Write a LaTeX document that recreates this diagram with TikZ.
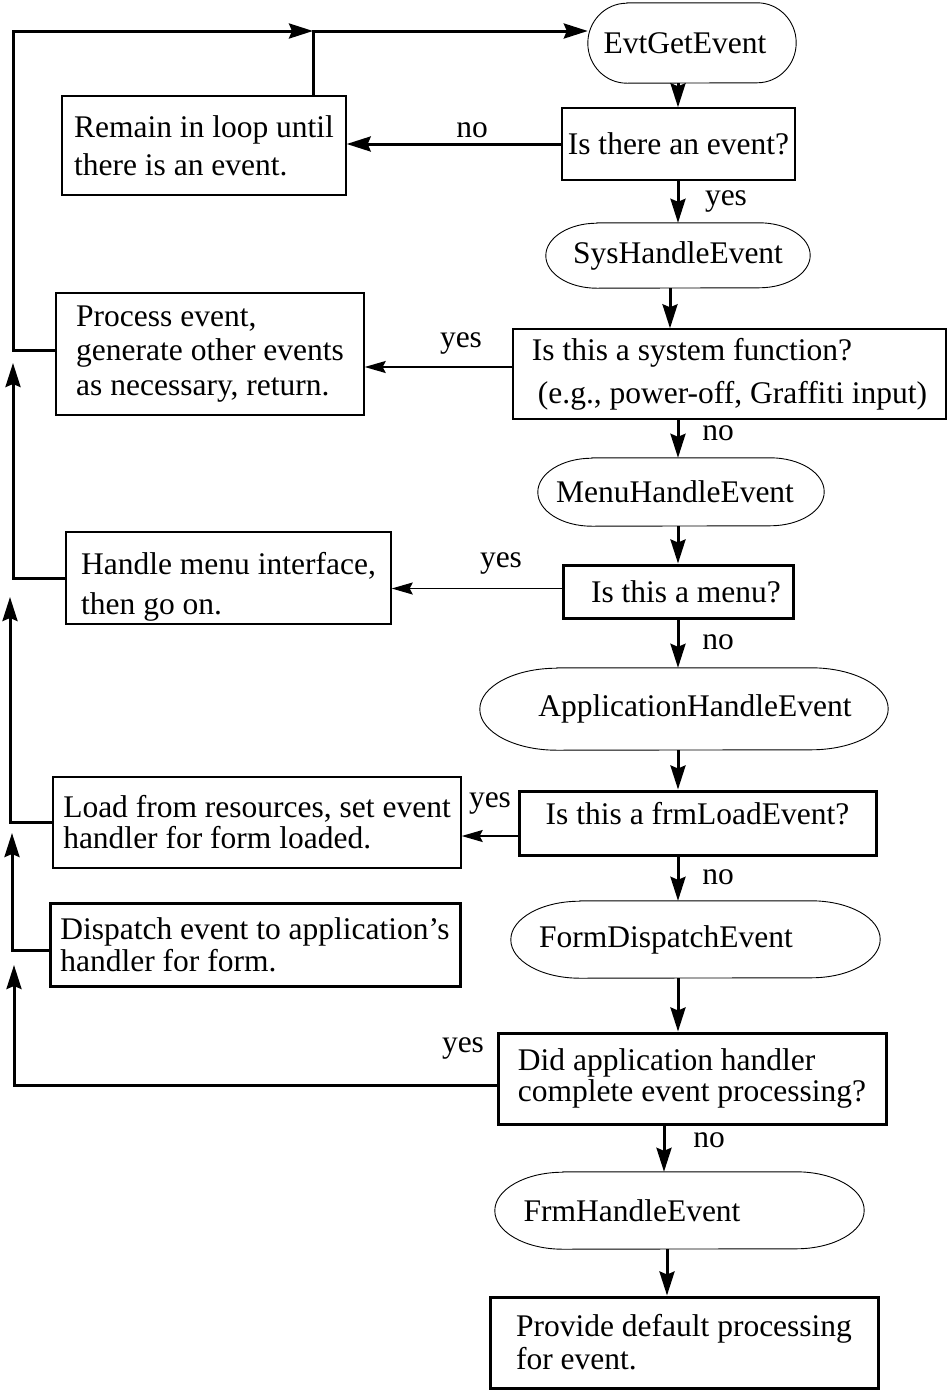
\documentclass[tikz,border=0pt]{standalone}
\usepackage{fontspec}
\setmainfont{Liberation Serif}
\usetikzlibrary{arrows.meta}

\newcommand\capsule[3]{%
  \draw[line width=0.9pt] ([xshift=#2]#1.north west) -- ([xshift=-#2]#1.north east)
    arc[start angle=90,end angle=-90,x radius=#2,y radius=#3]
    -- ([xshift=#2]#1.south west)
    arc[start angle=270,end angle=90,x radius=#2,y radius=#3] -- cycle;}

\begin{document}
\begin{tikzpicture}[x=1pt,y=-1pt]
\tikzset{every node/.style={font=\fontsize{31.5}{33}\selectfont,inner sep=0pt}}
\tikzset{box/.style={draw,line width=1.4pt,rectangle,align=left}}
\tikzset{heavybox/.style={box,line width=3pt}}
\tikzset{capsulenode/.style={rectangle}}
\tikzset{flow/.style={line width=3pt,-{Stealth[length=24pt,width=15pt,inset=3pt]}}}
\tikzset{thinflow/.style={line width=1.4pt,-{Stealth[length=21pt,width=12pt,inset=3pt]}}}

\useasboundingbox (0,0) rectangle (947,1395);

% main column
\node[capsulenode,minimum width=208pt,minimum height=80pt] (evt) at (692,43) {EvtGetEvent\hspace*{14pt}};
\node[box,minimum width=233pt,minimum height=72pt] (isev) at (678.5,144) {Is there an event?};
\node[capsulenode,minimum width=264pt,minimum height=65pt] (sys) at (678,255.5) {SysHandleEvent};
\node[box,minimum width=433pt,minimum height=90pt] (sysq) at (729.5,374)
  {Is this a system function?\\[10pt]\hspace*{6pt}(e.g., power-off, Graffiti input)};
\node[capsulenode,minimum width=286pt,minimum height=68pt] (menu) at (681,492) {MenuHandleEvent\hspace*{12pt}};
\node[heavybox,minimum width=230pt,minimum height=53pt] (menuq) at (678,591.5) {\hspace*{16pt}Is this a menu?};
\node[capsulenode,minimum width=408pt,minimum height=82pt] (app) at (684,709) {\hspace*{22pt}ApplicationHandleEvent};
\node[heavybox,minimum width=357pt,minimum height=64pt] (loadq) at (697.5,823) {Is this a frmLoadEvent?\rule[-19pt]{0pt}{1pt}};
\node[capsulenode,minimum width=369pt,minimum height=77pt] (form) at (695.5,939.5) {FormDispatchEvent\hspace*{59pt}};
\node[heavybox,minimum width=388pt,minimum height=91pt] (didq) at (692,1078.5)
  {Did application handler\\[-2pt]complete event processing?};
\node[capsulenode,minimum width=369pt,minimum height=77pt] (frm) at (679.5,1210.5) {FrmHandleEvent\hspace*{95pt}};
\node[heavybox,minimum width=388pt,minimum height=91pt] (prov) at (684,1342.5)
  {Provide default processing\\for event.};

\capsule{evt}{39pt}{40pt}
\capsule{sys}{51pt}{32.5pt}
\capsule{menu}{54pt}{34pt}
\capsule{app}{77pt}{41pt}
\capsule{form}{69pt}{38.5pt}
\capsule{frm}{68pt}{38.5pt}

% left column
\node[box,minimum width=284pt,minimum height=99pt] (remain) at (204,145.5)
  {Remain in loop until\\[5pt]there is an event.};
\node[box,minimum width=308pt,minimum height=122pt] (proc) at (210,354)
  {Process event,\\[1.5pt]generate other events\\[1.5pt]as necessary, return.};
\node[box,minimum width=325pt,minimum height=92pt] (hmenu) at (228.5,578)
  {\rule{0pt}{40pt}Handle menu interface,\\[7pt]then go on.};
\node[box,minimum width=408pt,minimum height=91pt] (load) at (257,822.5)
  {Load from resources, set event\\[-2pt]handler for form loaded.};
\node[heavybox,minimum width=410pt,minimum height=83pt] (disp) at (255,944.5)
  {Dispatch event to application’s\\[-1pt]handler for form.};

% branch labels
\node (noev) at (472,130) {no};
\node (yesev) at (726,201) {yes};
\node (yessys) at (461,343) {yes};
\node (nosys) at (718,433) {no};
\node (yesmenu) at (501,563) {yes};
\node (nomenu) at (718,642) {no};
\node (yesload) at (490,803) {yes};
\node (noload) at (718,877) {no};
\node (yesdid) at (463,1048) {yes};
\node (nodid) at (709,1140) {no};

\coordinate (spine) at (678,0);
\coordinate (sysdrop) at (670,0);
\coordinate (spinelow) at (664,0);
\coordinate (spinebase) at (667,0);
\coordinate (topjoin) at (313,31);
\coordinate (railtop) at (13,31);
\coordinate (retmenu) at (13,363);
\coordinate (retload) at (10,597);
\coordinate (retdisp) at (12,833);
\coordinate (retdid) at (14,965);

% down the spine
\draw[flow] (evt.south -| spine) -- (isev.north -| spine);
\draw[flow] (isev.south -| spine) -- (sys.north -| spine);
\draw[flow] (sys.south -| sysdrop) -- (sysq.north -| sysdrop);
\draw[flow] (sysq.south -| spine) -- (menu.north -| spine);
\draw[flow] (menu.south -| spine) -- (menuq.north -| spine);
\draw[flow] (menuq.south -| spine) -- (app.north -| spine);
\draw[flow] (app.south -| spine) -- (loadq.north -| spine);
\draw[flow] (loadq.south -| spine) -- (form.north -| spine);
\draw[flow] (form.south -| spine) -- (didq.north -| spine);
\draw[flow] (didq.south -| spinelow) -- (frm.north -| spinelow);
\draw[flow] (frm.south -| spinebase) -- (prov.north -| spinebase);

% branches to the left
\draw[flow] (isev.west) -- (isev.west -| remain.east);
\draw[thinflow] ([yshift=7pt]sysq.west) -- ([yshift=7pt]sysq.west -| proc.east);
\draw[thinflow] ([yshift=3pt]menuq.west) -- ([yshift=3pt]menuq.west -| hmenu.east);
\draw[thinflow] ([yshift=-13pt]loadq.west) -- ([yshift=-13pt]loadq.west -| load.east);

% back to the top
\draw[flow] (remain.north -| topjoin) -- (topjoin) -- (evt.west |- topjoin);
\draw[flow] ([yshift=4pt]proc.west) -| (railtop) -- (topjoin);
\draw[flow] (hmenu.west) -| (retmenu);
\draw[flow] (load.west) -| (retload);
\draw[flow] ([yshift=-5.5pt]disp.west) -| (retdisp);
\draw[flow] ([yshift=-6.5pt]didq.west) -| (retdid);

\end{tikzpicture}
\end{document}
